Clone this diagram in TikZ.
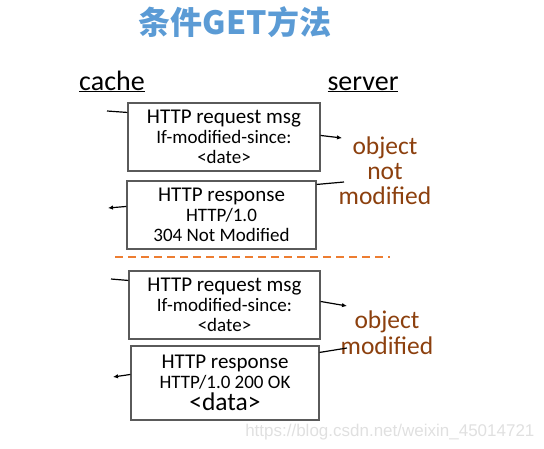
\documentclass[tikz,border=0pt]{standalone}
\usepackage{fontspec}
\setmainfont{Carlito}
\newfontfamily\cjk{Noto Sans CJK SC}
\newfontfamily\wmfont{Liberation Sans}
\usetikzlibrary{calc,arrows.meta}
\definecolor{titleblue}{RGB}{91,155,213}
\definecolor{notebrown}{RGB}{140,64,14}
\definecolor{dashorange}{RGB}{237,125,49}
\definecolor{boxgray}{RGB}{90,90,90}
\def\fs#1{\fontsize{#1}{20}\selectfont}
\tikzset{
	msgbox/.style={draw=boxgray, line width=1.1pt, align=center, inner sep=0pt, font=\fs{19}},
	msgline/.style={line width=1.2pt},
	msgarrow/.style={line width=1.2pt, -{Latex[length=5pt,width=4.5pt]}},
	note/.style={text=notebrown, align=center, font=\fontsize{25.5}{25}\selectfont}
}

\begin{document}
\begin{tikzpicture}[x=1pt,y=-1pt]
			\useasboundingbox (0,0) rectangle (544,448);
			%%%%% START %%%%%
			\node[font=\cjk\bfseries\fontsize{32}{32}\selectfont, text=titleblue] (title) at (235,22) {条件GET方法};
			
			\node[font=\fontsize{28}{28}\selectfont, anchor=base] (cache) at (112,90) {\underline{cache}};
			\node[font=\fontsize{28}{28}\selectfont, anchor=base] (server) at (363,90) {\underline{server}};
			
			%%%%% not modified %%%%%
			\node[msgbox, minimum width=192pt, minimum height=68pt] (req1) at (224,137)
				{{\fs{21}HTTP request msg}\\If-modified-since:\\\textless date\textgreater};
			\node[msgbox, minimum width=189pt, minimum height=68pt] (resp1) at (221.5,215)
				{{\fs{21}HTTP response}\\HTTP/1.0\\304 Not Modified};
			\node[note] (note1) at (385,171) {object\\not\\modified};
			
			\coordinate (a1) at (107,111);
			\coordinate (a2) at (342,138);
			\coordinate (a3) at (344,182);
			\coordinate (a4) at (108,208);
			\draw[msgline] (a1) -- ($(req1.north west)+(0,10)$);
			\draw[msgarrow] ($(req1.north east)+(0,33)$) -- (a2);
			\draw[msgline] (a3) -- ($(resp1.north east)+(0,4)$);
			\draw[msgarrow] ($(resp1.north west)+(0,26)$) -- (a4);
			
			%%%%% divider %%%%%
			\coordinate (d1) at (115,257);
			\coordinate (d2) at (390,257);
			\draw[dashorange, line width=2pt, dash pattern=on 8pt off 5pt] (d1) -- (d2);
			
			%%%%% modified %%%%%
			\node[msgbox, minimum width=191pt, minimum height=68pt] (req2) at (224.5,305)
				{{\fs{21}HTTP request msg}\\If-modified-since:\\\textless date\textgreater};
			\node[msgbox, minimum width=188pt, minimum height=74pt] (resp2) at (225,383)
				{{\fs{21}HTTP response}\\HTTP/1.0 200 OK\\[2pt]{\fs{25.5}\textless data\textgreater}};
			\node[note, font=\fontsize{25.5}{26}\selectfont] (note2) at (387,333) {object\\modified};
			
			\coordinate (b1) at (111,279);
			\coordinate (b2) at (347,306);
			\coordinate (b3) at (347,348);
			\coordinate (b4) at (113,377);
			\draw[msgline] (b1) -- ($(req2.north west)+(0,10)$);
			\draw[msgarrow] ($(req2.north east)+(0,31)$) -- (b2);
			\draw[msgline] (b3) -- ($(resp2.north east)+(0,7)$);
			\draw[msgarrow] ($(resp2.north west)+(0,29)$) -- (b4);
			
			\node[font=\wmfont\fontsize{17}{17}\selectfont, text=black!12, anchor=base east] (mark) at (538,436) {https://blog.csdn.net/weixin\_45014721};
			%%%%% END %%%%%
\end{tikzpicture}
\end{document}
